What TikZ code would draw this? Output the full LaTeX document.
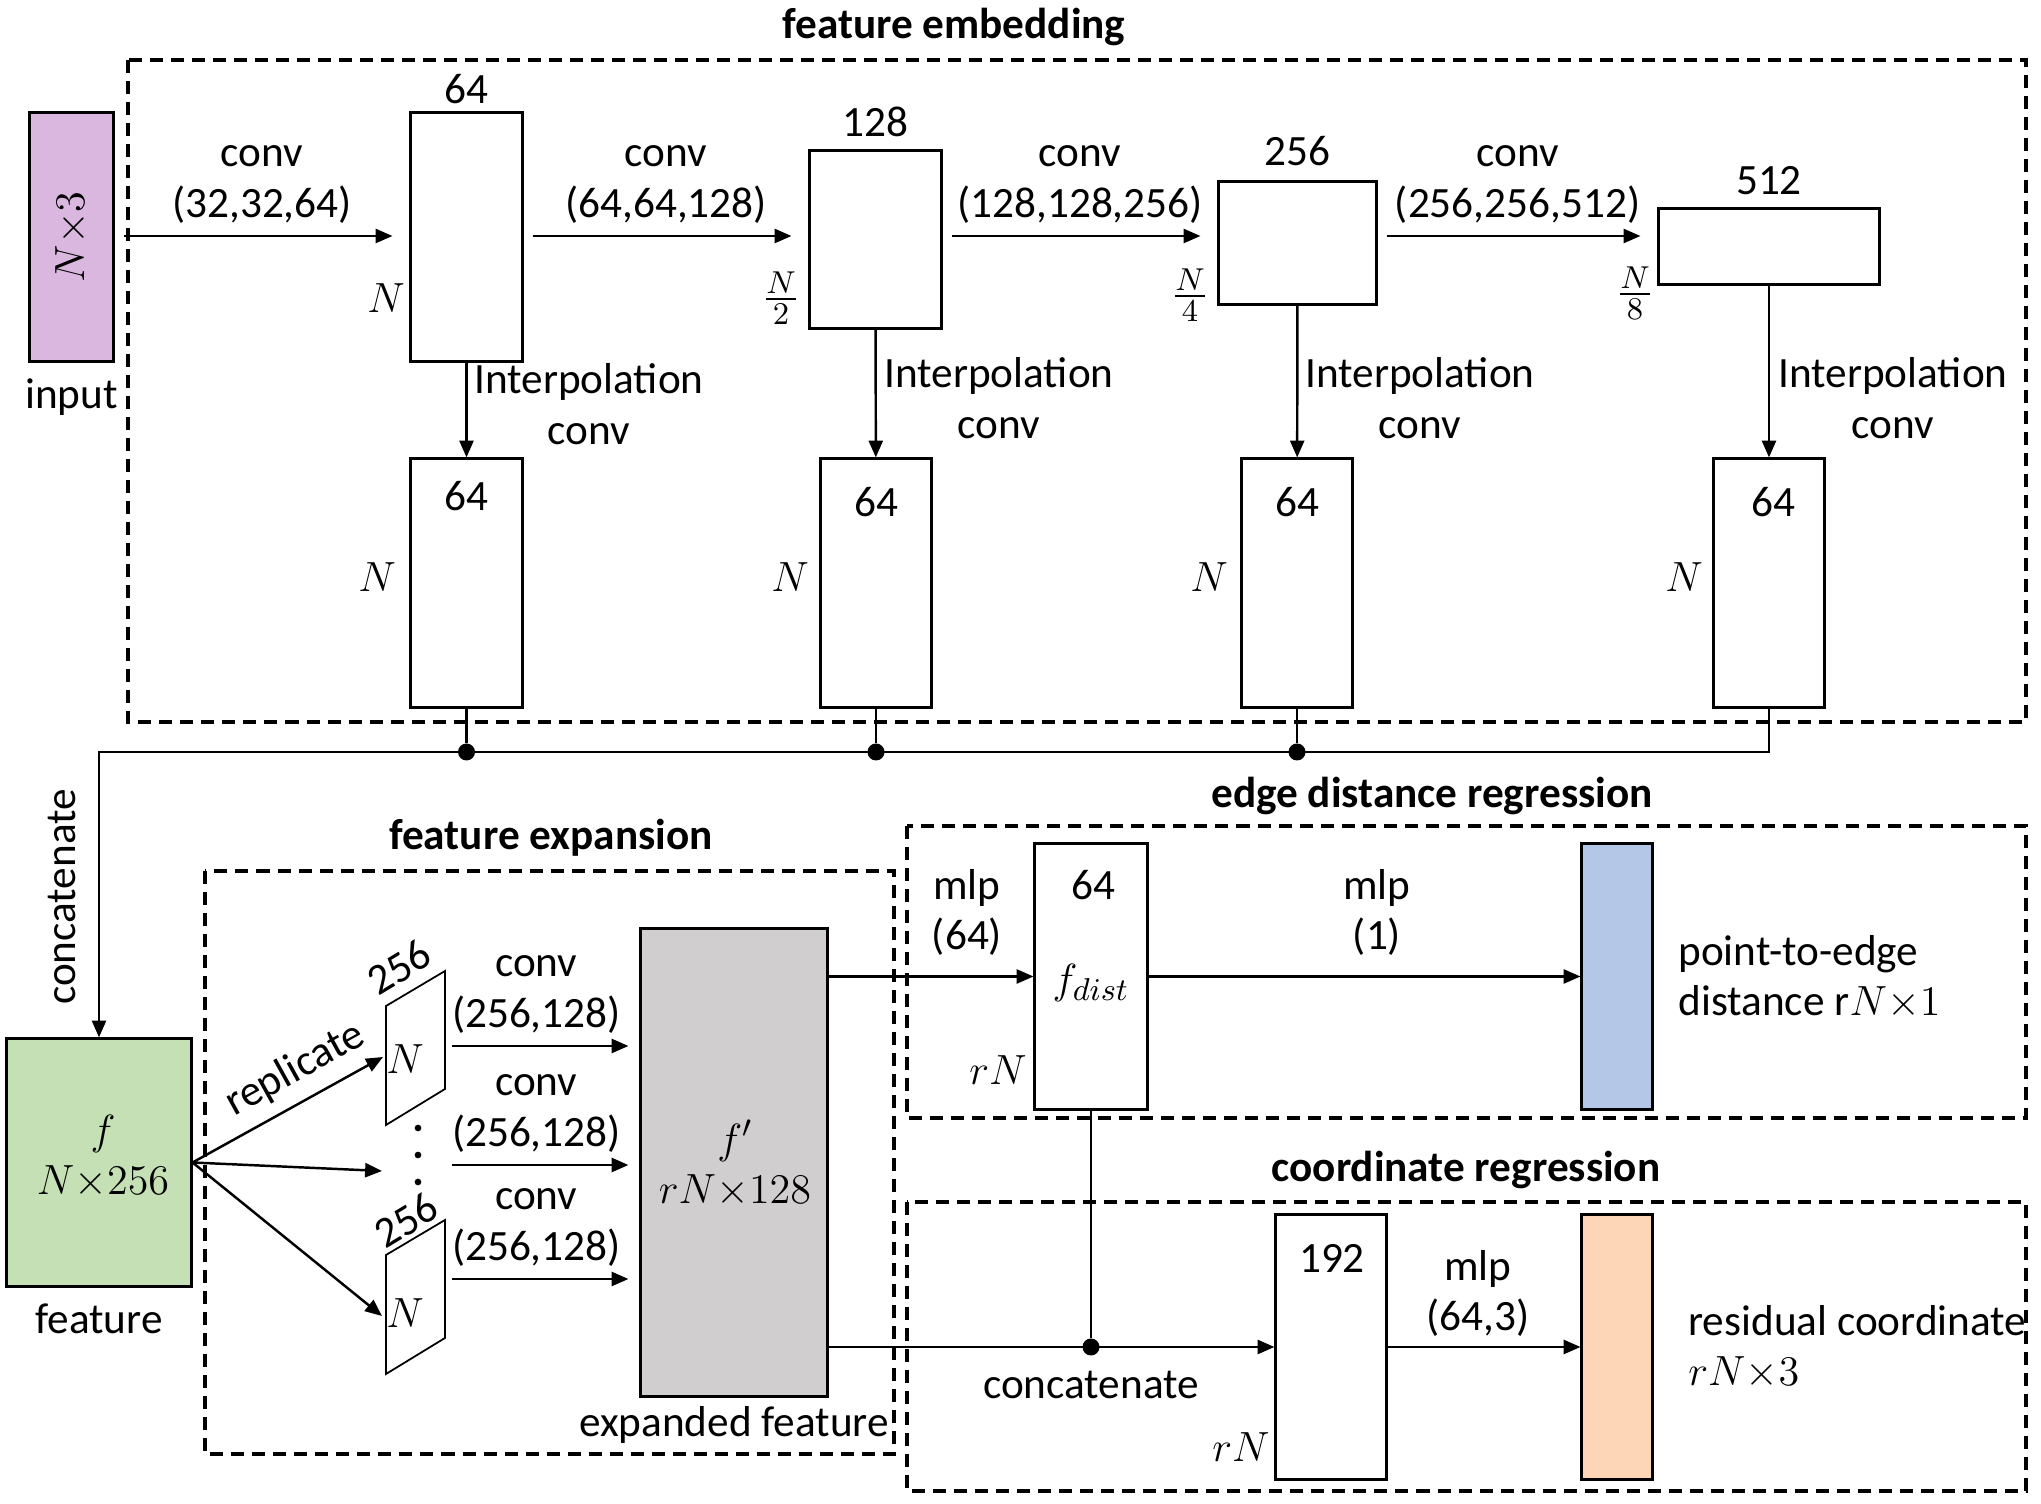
\documentclass[tikz,border=0pt]{standalone}
\usepackage{amsmath}
\usepackage{fontspec}
\setmainfont{Carlito}
\usetikzlibrary{arrows.meta,positioning}
\definecolor{inpurple}{HTML}{D9B7DF}
\definecolor{featgreen}{HTML}{C5E0B4}
\definecolor{expgray}{HTML}{D0CECE}
\definecolor{distblue}{HTML}{B4C7E7}
\definecolor{resorange}{HTML}{FCD6B6}

\begin{document}
\begin{tikzpicture}[x=0.01cm,y=-0.01cm,>={Triangle[length=4.8pt,width=4pt]},
  every node/.style={font=\fontsize{12.3}{14.5}\selectfont},
  blk/.style={draw,line width=0.85pt,inner sep=0pt},
  grp/.style={draw,line width=0.95pt,dash pattern=on 0.13cm off 0.08cm},
  ttl/.style={font=\fontsize{12.3}{14.5}\selectfont\bfseries},
  arr/.style={->,line width=0.7pt},
  flow/.style={arr,shorten <=0.09cm,shorten >=0.17cm},
  lbl/.style={inner sep=0pt},
  jn/.style={circle,fill,inner sep=0pt,minimum size=0.17cm}]
\useasboundingbox (0,0) rectangle (2041,1504);
\draw[grp] (128,60) rectangle (2026,722);\draw[grp] (205,871) rectangle (894,1454);
\draw[grp] (907,826) rectangle (2026,1118);\draw[grp] (907,1202) rectangle (2026,1491);
\node[ttl] (tembed) at (954,27) {feature embedding};
\node[ttl] (texpand) at (551,838) {feature expansion};
\node[ttl] (tdist) at (1432,796) {edge distance regression};
\node[ttl] (tcoord) at (1466,1170) {coordinate regression};
\coordinate (row) at (0,236); \coordinate (bus) at (0,752);

\node[blk,fill=inpurple,minimum width=0.83cm,minimum height=2.48cm] (in) at (71.5,237) {};
\node[rotate=90] (inlbl) at (in) {$N{\times}3$};
\node[below=1pt of in] (intxt) {input};
\node[blk,minimum width=1.11cm,minimum height=2.48cm] (b1) at (466.5,237) {};
\node[blk,minimum width=1.31cm,minimum height=1.77cm] (b2) at (875.5,239.5) {};
\node[blk,minimum width=1.57cm,minimum height=1.22cm] (b3) at (1297.5,243) {};
\node[blk,minimum width=2.20cm,minimum height=0.75cm] (b4) at (1769,246.5) {};
\node[lbl,above=2pt of b1] (c1) {64};\node[lbl,above=3.3pt of b2] (c2) {128};
\node[lbl,above=4.1pt of b3] (c3) {256};\node[lbl,above=3.5pt of b4] (c4) {512};
\node (h1) at (386,298) {$N$};\node (h2) at (781,298) {$\frac{N}{2}$};
\node (h3) at (1190,295) {$\frac{N}{4}$};\node (h4) at (1635,293) {$\frac{N}{8}$};
\draw[flow] (in.east |- row) -- node[above,align=center]{conv\\(32,32,64)} (b1.west |- row);
\draw[flow] (b1.east |- row) -- node[above,align=center]{conv\\(64,64,128)} (b2.west |- row);
\draw[flow] (b2.east |- row) -- node[above,align=center]{conv\\(128,128,256)} (b3.west |- row);
\draw[flow] (b3.east |- row) -- node[above,align=center]{conv\\(256,256,512)} (b4.west |- row);

\node[blk,minimum width=1.11cm,minimum height=2.48cm] (e1) at (466.5,583) {};
\node[blk,minimum width=1.11cm,minimum height=2.48cm] (e2) at (876,583) {};
\node[blk,minimum width=1.11cm,minimum height=2.48cm] (e3) at (1297,583) {};
\node[blk,minimum width=1.11cm,minimum height=2.48cm] (e4) at (1769,583) {};
\node (d1) at (466,496) {64};\node (d2) at (876,502) {64};\node (d3) at (1297,502) {64};\node (d4) at (1773,502) {64};
\node (m1) at (377,577) {$N$};\node (m2) at (790,577) {$N$};\node (m3) at (1209,577) {$N$};\node (m4) at (1684,577) {$N$};
\draw[arr] (b1) -- (e1);\draw[arr] (b2) -- (e2);\draw[arr] (b3) -- (e3);\draw[arr] (b4) -- (e4);
\node[align=center,anchor=base] (ip1) at (589,445) {Interpolation\\conv};
\node[align=center,anchor=base] (ip2) at (999,439) {Interpolation\\conv};
\node[align=center,anchor=base] (ip3) at (1420,439) {Interpolation\\conv};
\node[align=center,anchor=base] (ip4) at (1893,439) {Interpolation\\conv};

\node[blk,fill=featgreen,minimum width=1.84cm,minimum height=2.47cm] (feat) at (99,1162.5) {};
\node[align=center,anchor=base] (feattxt) at (103,1195) {$f$\\$N{\times}256$};
\node[below=1pt of feat] (featlbl) {feature};
\node[jn] (j1) at (e1.south |- bus) {};\node[jn] (j2) at (e2.south |- bus) {};\node[jn] (j3) at (e3.south |- bus) {};
\draw[line width=0.7pt] (e1) -- (j1) (e2) -- (j2) (e3) -- (j3);
\draw[arr] (e4.south) |- (feat.north |- bus) -- (feat.north);
\node[rotate=90] (catlbl) at (62,897) {concatenate};

\draw[line width=0.5pt] (386,1006) -- (445,971) -- (445,1089) -- (386,1125) -- cycle;
\draw[line width=0.5pt] (386,1255) -- (445,1220) -- (445,1338) -- (386,1374) -- cycle;
\node[rotate=31] (ch1) at (399,967) {256};\node (n1) at (405,1059) {$N$};
\node[rotate=31] (ch2) at (406,1220) {256};\node (n2) at (405,1313) {$N$};
\foreach \y in {1128,1155,1182} \node[circle,fill,inner sep=0pt,minimum size=1.9pt] (vd\y) at (418,\y) {};
\coordinate (r1) at (383,1057); \coordinate (r2) at (382,1171); \coordinate (r3) at (382,1316);
\draw[arr] (feat.east) -- node[sloped,above,pos=0.62]{replicate} (r1);
\draw[arr] (feat.east) -- (r2);\draw[arr] (feat.east) -- (r3);

\node[blk,fill=expgray,minimum width=1.86cm,minimum height=4.67cm] (exp) at (734,1162.5) {};
\node[align=center,anchor=base] (exptxt) at (735,1204) {$f'$\\$rN{\times}128$};
\node[below=-1pt of exp] (explbl) {expanded feature};
\foreach \y [count=\i] in {1046,1165,1279} {
  \coordinate (cs\i) at (452,\y);
  \draw[arr,shorten >=0.11cm] (cs\i) -- node[above,align=center,pos=0.45]{conv\\(256,128)} (exp.west |- cs\i);
}

\node[blk,minimum width=1.12cm,minimum height=2.65cm] (fd) at (1091,976.5) {};
\node (fd64) at (1093,885) {64};\node (fdtxt) at (1091,983) {$f_{dist}$};\node (fdn) at (998,1070) {$rN$};
\node[blk,fill=distblue,minimum width=0.70cm,minimum height=2.65cm] (pe) at (1617,976.5) {};
\draw[arr] (exp.east |- fd) -- (fd.west);\draw[arr] (fd.east) -- (pe.west);
\node[align=center,anchor=base] (mlp1) at (967,950) {mlp\\(64)};
\node[align=center,anchor=base] (mlp2) at (1377,950) {mlp\\(1)};
\node[align=left,anchor=base west] (petxt) at (1666,1016) {point-to-edge\\distance r$N{\times}1$};

\node[blk,minimum width=1.10cm,minimum height=2.64cm] (co) at (1331,1347) {};
\node (co192) at (1332,1258) {192};\node (con) at (1241,1447) {$rN$};
\node[blk,fill=resorange,minimum width=0.70cm,minimum height=2.64cm] (rc) at (1617,1347) {};
\node[jn] (jc) at (fd.south |- co) {};
\draw[line width=0.5pt] (fd) -- (jc);
\draw[arr] (exp.east |- jc) -- (co.west |- jc);
\node (jclbl) at (1091,1385) {concatenate};
\draw[arr] (co.east) -- (rc.west);
\node[align=center,anchor=base] (mlp3) at (1478,1331) {mlp\\(64,3)};
\node[align=left,anchor=base west] (rctxt) at (1676,1386) {residual coordinate\\$rN{\times}3$};
\end{tikzpicture}
\end{document}
